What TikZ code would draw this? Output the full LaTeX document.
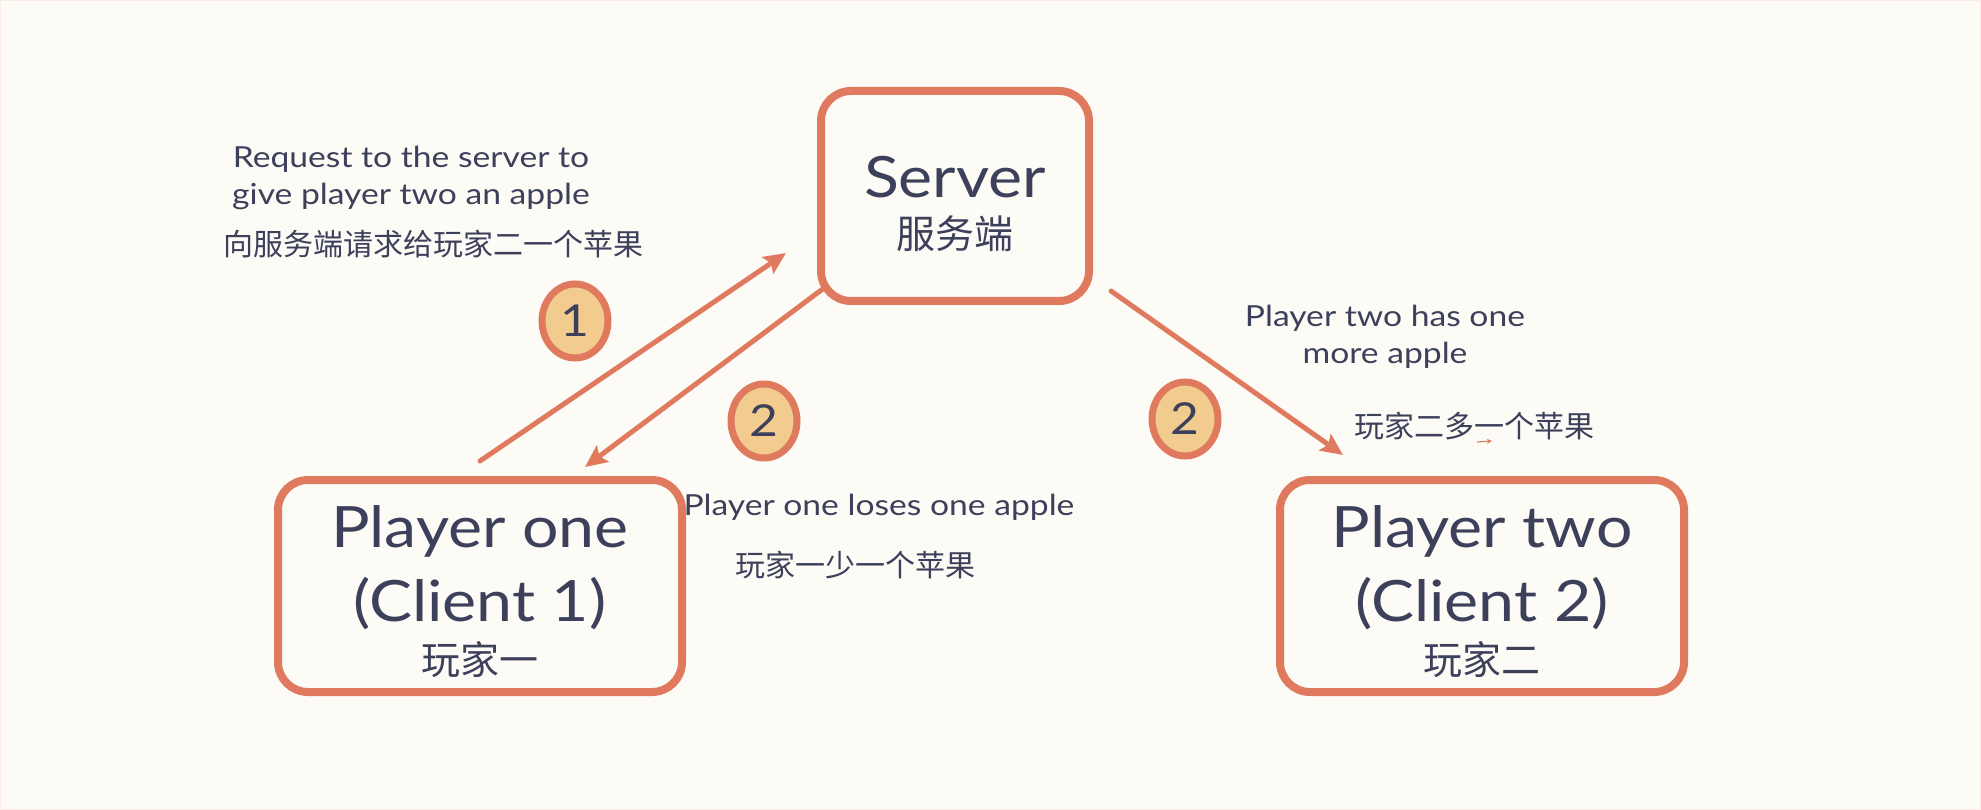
\documentclass[tikz,border=0pt]{standalone}
\usepackage{fontspec}
\setmainfont{Lato}
\newfontfamily\widefont[FakeStretch=1.13]{Lato}
\newfontfamily\notefont[FakeStretch=1.16]{Lato}
\newfontfamily\cjk{Noto Sans CJK SC}
\usetikzlibrary{arrows.meta,shapes.geometric}
\definecolor{bgc}{HTML}{FDFBF6}
\definecolor{ink}{HTML}{3D405B}
\definecolor{rust}{HTML}{E07A5F}
\definecolor{sand}{HTML}{F2CC8F}
\tikzset{
  box/.style={draw=rust, line width=8pt, rounded corners=30pt, fill=bgc, inner sep=0pt},
  big/.style={text=ink, inner sep=0pt, font=\widefont\fontsize{57}{60}\selectfont},
  bigcjk/.style={text=ink, inner sep=0pt, font=\cjk\fontsize{39}{42}\selectfont},
  note/.style={text=ink, inner sep=0pt, font=\notefont\fontsize{29}{32}\selectfont},
  notecjk/.style={text=ink, inner sep=0pt, font=\cjk\fontsize{30}{33}\selectfont},
  badge/.style={ellipse, draw=rust, line width=7pt, fill=sand, text=ink, minimum width=66pt, minimum height=74pt, inner sep=0pt, font=\widefont\fontsize{44}{48}\selectfont},
  conn/.style={draw=rust, line width=5pt, line cap=round, -{Stealth[length=22pt,width=20pt,inset=4pt]}},
}
\begin{document}
\begin{tikzpicture}[x=1pt,y=-1pt]
\fill[bgc] (0,0) rectangle (1981,810);
\useasboundingbox (0,0) rectangle (1981,810);
\draw[rust!15, line width=1pt] (0.5,0.5) rectangle (1980.5,809.5);

% boxes
\node[box, minimum width=268pt, minimum height=210pt] (server) at (955,196) {};
\node[box, minimum width=404pt, minimum height=212pt] (p1) at (480,586) {};
\node[box, minimum width=404pt, minimum height=212pt] (p2) at (1482,586) {};

% box labels
\node[big] (serverT) at (955,177) {Server};
\node[bigcjk] (serverC) at (955,234) {服务端};
\node[big] (p1a) at (480,531) {Player one};
\node[big] (p1b) at (480,604) {(Client 1)};
\node[bigcjk] (p1c) at (480,660) {玩家一};
\node[big] (p2a) at (1482,531) {Player two};
\node[big] (p2b) at (1482,604) {(Client 2)};
\node[bigcjk] (p2c) at (1482,660) {玩家二};

% connectors
\coordinate (a1s) at (480,461);
\coordinate (a1e) at (786,253);
\coordinate (a2s) at (824,288);
\coordinate (a2e) at (585,467);
\coordinate (a3s) at (1111,291);
\coordinate (a3e) at (1343,455);
\draw[conn] (a1s) -- (a1e);
\draw[conn] (a2s) -- (a2e);
\draw[conn] (a3s) -- (a3e);

% badges
\node[badge] (b1) at (575,321) {1};
\node[badge] (b2) at (764,421) {2};
\node[badge] (b3) at (1185,419) {2};

% notes
\node[note] (n1a) at (411,159) {Request to the server to};
\node[note] (n1b) at (411,196) {give player two an apple};
\node[notecjk] (n1c) at (433,244) {向服务端请求给玩家二一个苹果};
\node[note] (n2a) at (879,507) {Player one loses one apple};
\node[notecjk] (n2b) at (855,565) {玩家一少一个苹果};
\node[note] (n3a) at (1385,318) {Player two has one};
\node[note] (n3b) at (1385,355) {more apple};
\node[notecjk] (n3c) at (1474,426) {玩家二多一个苹果};

% tiny stray arrow
\coordinate (t1) at (1477,442);
\coordinate (t2) at (1492,441);
\draw[rust, line width=1.2pt, -{Stealth[length=5pt,width=5pt]}] (t1) -- (t2);
\end{tikzpicture}
\end{document}
